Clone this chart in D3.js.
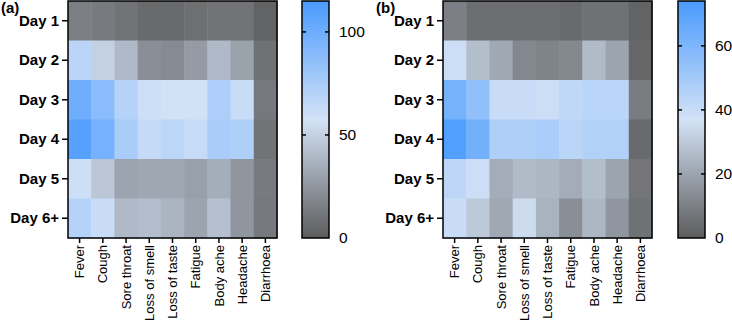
<!DOCTYPE html>
<html>
<head>
<meta charset="utf-8">
<script src="https://cdn.jsdelivr.net/npm/d3@7"></script>
<style>
  body { margin: 0; background: #fff; }
  svg { font-family: "Liberation Sans", Arial, sans-serif; }
</style>
</head>
<body>
<div class="chart"></div>
<script>
const days = ["Day 1", "Day 2", "Day 3", "Day 4", "Day 5", "Day 6+"]
const symptoms = ["Fever", "Cough", "Sore throat", "Loss of smell", "Loss of taste",
                  "Fatigue", "Body ache", "Headache", "Diarrhoea"]

// panel (a) counts, one row per day
const valuesA = [
    [15, 13, 10, 6, 6, 8, 10, 10, 3],
    [68, 50, 40, 22, 20, 27, 40, 30, 9],
    [100, 88, 70, 60, 58, 58, 74, 62, 12],
    [110, 97, 75, 64, 67, 63, 75, 73, 10],
    [60, 46, 31, 32, 32, 29, 35, 25, 13],
    [70, 62, 40, 42, 38, 31, 43, 25, 12]
]
// panel (b) counts
const valuesB = [
    [10, 5, 5, 5, 5, 4, 6, 6, 2],
    [39, 27, 21, 12, 11, 12, 26, 20, 3],
    [62, 55, 40, 40, 39, 42, 44, 44, 9],
    [72, 63, 47, 47, 48, 44, 46, 46, 4],
    [43, 39, 22, 26, 25, 22, 27, 20, 7],
    [40, 30, 21, 35, 24, 14, 25, 16, 6]
]
const maxA = 115, ticksA = [0, 50, 100]
const maxB = 74, ticksB = [0, 20, 40, 60]

const width = 732
const height = 323
const svg = d3.select(".chart").append("svg")
    .attr("width", width)
    .attr("height", height)

function drawPanel(values, maxV, ticks, label, left, right, barX) {
    const top = 1, bottom = 238
    const g = svg.append("g")

    const x = d3.scaleBand().domain(symptoms).range([left, right])
    const y = d3.scaleBand().domain(days).range([top, bottom])
    const color = d3.scaleLinear()
        .domain([0, maxV / 2, maxV])
        .range(["#5c5c5c", "#d3e2f6", "#4a9bff"])

    // cells
    const cells = []
    values.forEach((row, i) => row.forEach((v, j) => cells.push({day: days[i], sym: symptoms[j], v})))
    g.selectAll("rect.cell")
        .data(cells)
        .join("rect")
        .attr("class", "cell")
        .attr("x", d => x(d.sym))
        .attr("y", d => y(d.day))
        .attr("width", x.bandwidth() + 0.5)
        .attr("height", y.bandwidth() + 0.5)
        .attr("fill", d => color(d.v))

    // frame
    g.append("rect")
        .attr("x", left).attr("y", top)
        .attr("width", right - left).attr("height", bottom - top)
        .attr("fill", "none").attr("stroke", "#000").attr("stroke-width", 1.5)

    // axes
    const yAxis = g.append("g")
        .attr("transform", `translate(${left},0)`)
        .call(d3.axisLeft(y).tickSize(6).tickPadding(3))
    yAxis.select(".domain").remove()
    yAxis.selectAll("text")
        .attr("font-size", 15).attr("font-weight", "bold").attr("fill", "#000")
        .attr("font-family", "Liberation Sans, Arial, sans-serif")
    yAxis.selectAll("line").attr("stroke-width", 1.5)

    const xAxis = g.append("g")
        .attr("transform", `translate(0,${bottom})`)
        .call(d3.axisBottom(x).tickSize(5).tickPadding(3))
    xAxis.select(".domain").remove()
    xAxis.selectAll("line").attr("stroke-width", 1.5)
    xAxis.selectAll("text")
        .attr("font-size", 13).attr("fill", "#000")
        .attr("font-family", "Liberation Sans, Arial, sans-serif")
        .attr("transform", "rotate(-90)")
        .attr("text-anchor", "end")
        .attr("x", -7).attr("y", 0).attr("dy", "0.35em")

    // colour bar
    const barW = 27
    const gradId = "grad" + label.replace(/\W/g, "")
    const grad = svg.append("defs").append("linearGradient")
        .attr("id", gradId).attr("x1", 0).attr("y1", 1).attr("x2", 0).attr("y2", 0)
    color.domain().forEach(d => grad.append("stop")
        .attr("offset", d / maxV).attr("stop-color", color(d)))
    g.append("rect")
        .attr("x", barX).attr("y", top)
        .attr("width", barW).attr("height", bottom - top)
        .attr("fill", `url(#${gradId})`)
        .attr("stroke", "#000").attr("stroke-width", 1.5)

    const cy = d3.scaleLinear().domain([0, maxV]).range([bottom, top])
    const tg = g.append("g").selectAll("g")
        .data(ticks)
        .join("g")
        .attr("transform", d => `translate(0,${cy(d)})`)
    tg.filter(d => d > 0).append("line")
        .attr("x1", barX).attr("x2", barX + 4)
        .attr("stroke", "#000").attr("stroke-width", 1.5)
    tg.filter(d => d > 0).append("line")
        .attr("x1", barX + barW - 4).attr("x2", barX + barW)
        .attr("stroke", "#000").attr("stroke-width", 1.5)
    tg.append("text")
        .attr("x", barX + barW + 10)
        .attr("dy", "0.35em")
        .attr("font-size", 15.5)
        .text(d => d)

    // panel label
    svg.append("text")
        .attr("x", left - 67).attr("y", 13)
        .attr("font-size", 15).attr("font-weight", "bold")
        .text(label)
}

drawPanel(valuesA, maxA, ticksA, "(a)", 68, 277, 302)
drawPanel(valuesB, maxB, ticksB, "(b)", 443, 652, 678)
</script>
</body>
</html>
